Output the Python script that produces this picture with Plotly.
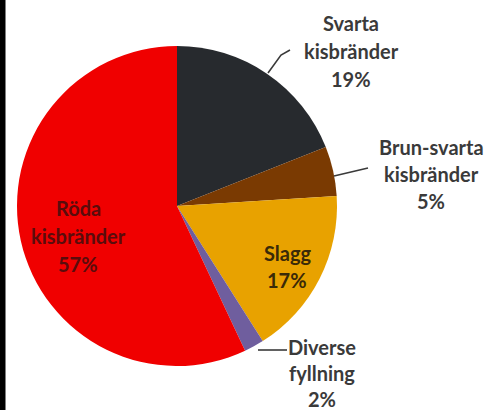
import plotly.graph_objects as go

# ---- data ----
categories = ["Svarta kisbränder", "Brun-svarta kisbränder", "Slagg", "Diverse fyllning", "Röda kisbränder"]
label_lines = [["Svarta", "kisbränder"], ["Brun-svarta", "kisbränder"], ["Slagg"], ["Diverse", "fyllning"], ["Röda", "kisbränder"]]
values = [19, 5, 17, 2, 57]
colors = ["#272a2e", "#7a3a02", "#e8a200", "#6f5e9e", "#f00000"]

W, H = 489, 410
# pie placement (pixels)
cx, cy, r = 177, 206, 160

def px(x):
    return x / W

def py(y):
    return 1 - y / H

fig = go.Figure(go.Pie(
    labels=categories,
    values=values,
    marker=dict(colors=colors, line=dict(width=0)),
    sort=False,
    direction="clockwise",
    rotation=0,
    textinfo="none",
    hoverinfo="label+percent",
    domain=dict(x=[px(cx - r), px(cx + r)], y=[py(cy + r), py(cy - r)]),
    showlegend=False,
))

# label placement (pixel centres of first line) and colours
label_pos = [(351, 23), (431, 147), (287, 253), (322, 347), (78, 208)]
label_col = ["#3a3a3a", "#3a3a3a", "#3a2a08", "#3a3a3a", "#5a0c0c"]
line_gaps = [28, 27, 27, 26, 28]
font_family = "Lato, 'Open Sans', sans-serif"

total = sum(values)
annotations = []
for lines, v, (lx, ly), col, gap in zip(label_lines, values, label_pos, label_col, line_gaps):
    all_lines = lines + [f"{round(100 * v / total)}%"]
    for i, t in enumerate(all_lines):
        annotations.append(dict(
            x=px(lx), y=py(ly + i * gap), xref="paper", yref="paper",
            text=f"<b>{t}</b>", showarrow=False,
            font=dict(family=font_family, size=20, color=col),
            xanchor="center", yanchor="middle",
        ))

# leader lines (pixel paths)
leaders = [
    [(268, 73), (281, 55), (290, 50)],
    [(334, 176), (368, 168)],
    [(258, 350), (287, 350)],
]
shapes = []
for pts in leaders:
    path = "M " + " L ".join(f"{px(x):.5f},{py(y):.5f}" for x, y in pts)
    shapes.append(dict(type="path", path=path, xref="paper", yref="paper",
                       line=dict(color="#3a3a3a", width=1.6)))
# black left border bar
shapes.append(dict(type="rect", xref="paper", yref="paper", x0=0, x1=px(5), y0=0, y1=1,
                   fillcolor="#000000", line=dict(color="#000000", width=1), layer="above"))

fig.update_layout(
    width=W, height=H,
    margin=dict(l=0, r=0, t=0, b=0),
    paper_bgcolor="white", plot_bgcolor="white",
    annotations=annotations, shapes=shapes,
)

fig.write_html("out.html")
